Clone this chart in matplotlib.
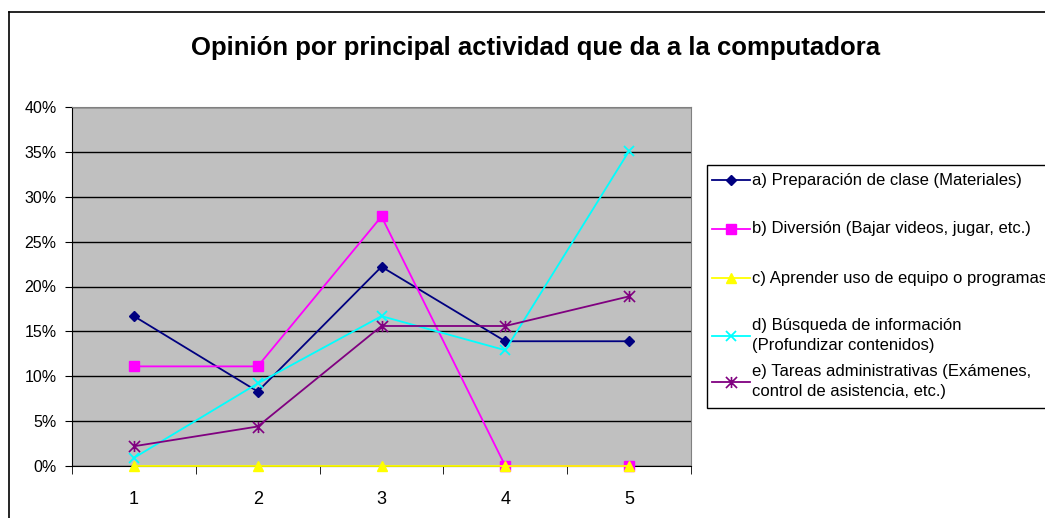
import matplotlib
matplotlib.use("Agg")
import matplotlib.pyplot as plt
from matplotlib.lines import Line2D
from matplotlib.path import Path
from matplotlib.ticker import PercentFormatter, FixedLocator

plt.rcParams['font.family'] = ['Liberation Sans', 'DejaVu Sans']

title = "Opinión por principal actividad que da a la computadora"
categories = [1, 2, 3, 4, 5]
labels = [
    "a) Preparación de clase (Materiales)",
    "b) Diversión (Bajar videos, jugar, etc.)",
    "c) Aprender uso de equipo o programas",
    "d) Búsqueda de información\n(Profundizar contenidos)",
    "e) Tareas administrativas (Exámenes,\ncontrol de asistencia, etc.)",
]
serie_a = [16.7, 8.3, 22.2, 13.9, 13.9]
serie_b = [11.1, 11.1, 27.8, 0.0, 0.0]
serie_c = [0.0, 0.0, 0.0, 0.0, 0.0]
serie_d = [0.9, 9.2, 16.7, 12.9, 35.1]
serie_e = [2.2, 4.4, 15.6, 15.6, 18.9]
y_ticks = [0, 5, 10, 15, 20, 25, 30, 35, 40]

star = Path([(0, -1), (0, 1), (-1, -1), (1, 1), (-1, 1), (1, -1)],
            [Path.MOVETO, Path.LINETO, Path.MOVETO, Path.LINETO, Path.MOVETO, Path.LINETO])

styles = [
    dict(color="#000080", marker="D", ms=5.5),
    dict(color="#FF00FF", marker="s", ms=6.5),
    dict(color="#FFFF00", marker="^", ms=7.5),
    dict(color="#00FFFF", marker="x", ms=7, mew=1.3),
    dict(color="#800080", marker=star, ms=8, mew=1.2),
]
series = [serie_a, serie_b, serie_c, serie_d, serie_e]

W, H = 1045, 518
fig = plt.figure(figsize=(W / 100, H / 100), dpi=100)

def fx(x):
    return x / W

def fy(y):
    return 1 - y / H

# outer chart border (top and left visible)
fig.add_artist(Line2D([fx(9), fx(W + 5)], [fy(12), fy(12)], color="black", lw=1.2))
fig.add_artist(Line2D([fx(9), fx(9)], [fy(12), fy(H + 5)], color="black", lw=1.2))

ax = fig.add_axes([fx(72), fy(466), fx(691) - fx(72), fy(107) - fy(466)])
ax.set_facecolor("#C0C0C0")
ax.set_xlim(0.5, 5.5)
ax.set_ylim(0, 40)
ax.set_yticks(y_ticks)
ax.yaxis.set_major_formatter(PercentFormatter(100, decimals=0))
ax.grid(axis="y", color="black", lw=1.0)
ax.set_axisbelow(True)

ax.set_xticks(categories)
ax.set_xticklabels([str(c) for c in categories])
ax.xaxis.set_minor_locator(FixedLocator([c - 0.5 for c in categories] + [categories[-1] + 0.5]))
ax.tick_params(axis="x", which="major", length=0, pad=18, labelsize=13)
ax.tick_params(axis="x", which="minor", length=6, direction="out", color="black")
ax.tick_params(axis="y", length=5, direction="out", labelsize=11.5, pad=6)

for s in ["top", "right"]:
    ax.spines[s].set_color("#808080")
for s in ["left", "bottom"]:
    ax.spines[s].set_color("#000000")

for vals, st in zip(series, styles):
    ax.plot(categories, vals, lw=1.3, clip_on=False, zorder=3, **st)

fig.text(fx(536), fy(48), title, ha="center", va="center", fontsize=18.5, fontweight="bold")

# legend box
fig.add_artist(plt.Rectangle((fx(707), fy(408)), fx(W + 20) - fx(707), fy(165) - fy(408),
                             transform=fig.transFigure, facecolor="white", edgecolor="black", lw=1.0))
leg_y = [180, 229, 278, 335.5, 381.5]
for lab, st, y in zip(labels, styles, leg_y):
    fig.add_artist(Line2D([fx(712), fx(750)], [fy(y), fy(y)], lw=1.3, color=st["color"]))
    fig.add_artist(Line2D([fx(731)], [fy(y)], lw=0, **st))
    fig.text(fx(752), fy(y), lab, ha="left", va="center", fontsize=12, linespacing=1.35)

fig.savefig("out.png", dpi=100)
